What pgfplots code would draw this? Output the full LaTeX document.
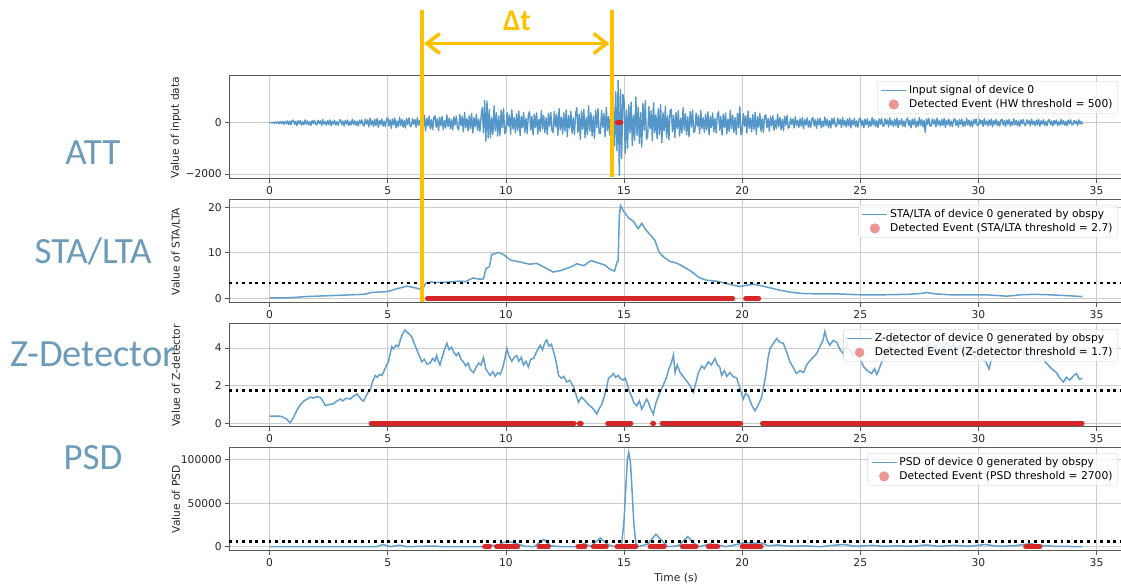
\documentclass[border=0pt]{standalone}
\usepackage{pgfplots}
\pgfplotsset{compat=1.18}
\usepackage{fontspec}
\setmainfont{DejaVu Sans}
\newfontfamily\calibri{Carlito}
\usetikzlibrary{arrows.meta}
\definecolor{tabblue}{RGB}{98,160,203}
\definecolor{sigblue}{RGB}{84,150,199}
\definecolor{evred}{RGB}{214,39,40}
\definecolor{evlegend}{RGB}{236,150,150}
\definecolor{orangeA}{RGB}{255,192,0}
\definecolor{sidelbl}{RGB}{108,155,186}
\pgfplotsset{
  panel/.style={
    width=894pt, height=103pt, scale only axis,
    xmin=-1.72, xmax=36.12, xtick={0,5,...,35},
    /pgf/number format/assume math mode=true,
    grid=major, grid style={gray!40, line width=0.8pt},
    axis line style={black!65, line width=1pt},
    tick style={black!65, line width=0.8pt},
    tick align=outside, major tick length=3.7pt, tick pos=left,
    ticklabel style={font=\fontsize{10.7}{12}\selectfont, text=black!85},
    label style={font=\fontsize{10.7}{12}\selectfont, text=black!85},
    ylabel style={at={(axis description cs:-0.0593,0.5)}, anchor=center},
    legend cell align=left,
    legend style={at={(1,1)}, anchor=north east, xshift=-5.3pt, yshift=-5.3pt,
      draw=black!20, fill=white, fill opacity=0.8, text opacity=1,
      rounded corners=2pt, font=\fontsize{10.7}{12}\selectfont,
      inner xsep=3pt, inner ysep=2pt, row sep=0.5pt},
  },
  sigline/.style={line width=1.5pt, color=tabblue,
    legend image code/.code={\draw[tabblue, line width=1.5pt] (0pt,0pt) -- (25pt,0pt);}},
  events/.style={evred, line width=5pt, line cap=round, unbounded coords=jump,
    legend image code/.code={\fill[evlegend] (12.5pt,0pt) circle (2.4pt);}},
  thresh/.style={black, line width=2.8pt, dash pattern=on 2.8pt off 3.8pt, forget plot},
}
\begin{document}
\begin{tikzpicture}
\useasboundingbox (0pt,0pt) rectangle (1121pt,588pt);

% ---------------- Panel 1: ATT  (samples every 0.05 s)
\begin{axis}[panel, at={(229pt,409pt)}, anchor=south west,
  ymin=-2195, ymax=1820, ytick={-2000,0}, yticklabels={−2000,0},
  ylabel={Value of input data}]
\addplot[sigblue, line width=1.35pt, line join=round,
  legend image code/.code={\draw[tabblue, line width=1.5pt] (0pt,0pt) -- (25pt,0pt);}]
  table[row sep=\\, header=false, x expr=\coordindex*0.05, y index=0] {
0\\10\\-15\\20\\-25\\30\\-20\\35\\-40\\45\\-35\\50\\-60\\55\\-45\\70\\-80\\60\\-75\\90\\
99\\-66\\55\\-110\\77\\-44\\88\\-99\\33\\-77\\110\\-55\\66\\-88\\44\\-105\\83\\-33\\94\\-72\\
-84\\96\\-36\\72\\-108\\120\\-60\\48\\-96\\84\\-72\\108\\-120\\60\\-48\\96\\-90\\42\\-102\\72\\
117\\-78\\65\\-130\\91\\-52\\104\\-117\\39\\-91\\130\\-65\\78\\-104\\52\\-124\\98\\-39\\111\\-85\\
-126\\144\\-54\\108\\-162\\180\\-90\\72\\-144\\126\\-108\\162\\-180\\90\\-72\\144\\-135\\63\\-153\\108\\
198\\-132\\110\\-220\\154\\-88\\176\\-198\\66\\-154\\220\\-110\\132\\-176\\88\\-209\\165\\-66\\187\\-143\\
-140\\160\\-60\\120\\-180\\200\\-100\\80\\-160\\140\\-192\\288\\-320\\160\\-128\\256\\-240\\112\\-272\\192\\
270\\-180\\150\\-300\\210\\-120\\240\\-270\\90\\-210\\300\\-150\\180\\-240\\120\\-285\\225\\-90\\255\\-195\\
-280\\320\\-120\\240\\-360\\400\\-200\\160\\-320\\280\\-240\\360\\-400\\200\\-160\\320\\-300\\140\\-340\\240\\
585\\-390\\860\\-720\\840\\-600\\520\\-585\\195\\-455\\650\\-325\\390\\-520\\260\\-500\\488\\-195\\553\\-423\\
-350\\400\\-150\\300\\-450\\500\\-250\\200\\-400\\350\\-300\\450\\-500\\250\\-200\\400\\-375\\175\\-425\\300\\
432\\-288\\240\\-480\\336\\-192\\384\\-432\\144\\-336\\480\\-240\\288\\-384\\192\\-456\\360\\-144\\408\\-312\\
-385\\440\\-165\\330\\-495\\550\\-275\\220\\-440\\385\\-330\\495\\-550\\275\\-220\\440\\-413\\193\\-468\\330\\
585\\-390\\325\\-650\\455\\-260\\520\\-585\\195\\-455\\650\\-325\\390\\-520\\260\\-618\\488\\-195\\553\\-423\\
-420\\480\\-180\\360\\-540\\600\\-300\\240\\-480\\420\\-500\\700\\-900\\1200\\-1100\\1650\\-2050\\1300\\-1400\\1100\\
900\\-1200\\500\\-1000\\700\\-400\\800\\-900\\300\\-700\\1000\\-500\\600\\-800\\400\\-950\\750\\-300\\850\\-650\\
-546\\624\\-234\\468\\-702\\780\\-390\\312\\-624\\546\\-468\\702\\-780\\390\\-312\\624\\-585\\273\\-663\\468\\
522\\-348\\290\\-580\\406\\-232\\464\\-522\\174\\-406\\580\\-290\\348\\-464\\232\\-551\\435\\-174\\493\\-377\\
-329\\376\\-141\\282\\-423\\470\\-235\\188\\-376\\329\\-282\\423\\-470\\235\\-188\\376\\-353\\165\\-400\\282\\
432\\-288\\240\\-480\\336\\-192\\384\\-432\\144\\-336\\480\\-240\\288\\-384\\192\\-456\\360\\-200\\620\\-480\\
-315\\360\\-135\\270\\-405\\450\\-225\\180\\-360\\315\\-270\\405\\-450\\225\\-180\\360\\-338\\158\\-383\\270\\
297\\-198\\165\\-330\\231\\-132\\264\\-297\\99\\-231\\330\\-165\\198\\-264\\132\\-314\\248\\-99\\281\\-215\\
-161\\184\\-69\\138\\-207\\230\\-115\\92\\-184\\161\\-138\\207\\-230\\115\\-92\\184\\-173\\81\\-196\\138\\
198\\-132\\110\\-220\\154\\-88\\176\\-198\\66\\-154\\220\\-110\\132\\-176\\88\\-209\\165\\-66\\187\\-143\\
-147\\168\\-63\\126\\-189\\210\\-105\\84\\-168\\147\\-126\\189\\-210\\105\\-84\\168\\-158\\74\\-179\\126\\
180\\-120\\100\\-200\\140\\-80\\160\\-180\\60\\-140\\200\\-100\\120\\-160\\80\\-190\\150\\-60\\170\\-130\\
-133\\152\\-57\\114\\-171\\190\\-95\\76\\-152\\133\\-114\\171\\-190\\95\\-76\\152\\-143\\67\\-162\\114\\
180\\-120\\100\\-200\\140\\-80\\160\\-180\\60\\-140\\200\\-100\\120\\-160\\80\\-380\\150\\-60\\170\\-130\\
-126\\144\\-54\\108\\-162\\180\\-90\\72\\-144\\126\\-108\\162\\-180\\90\\-72\\144\\-135\\63\\-153\\108\\
153\\-102\\85\\-170\\119\\-68\\136\\-153\\51\\-119\\170\\-85\\102\\-136\\68\\-162\\128\\-51\\145\\-111\\
-112\\128\\-48\\96\\-144\\160\\-80\\64\\-128\\112\\-96\\144\\-160\\80\\-64\\128\\-120\\56\\-136\\96\\
135\\-90\\75\\-150\\105\\-60\\120\\-135\\45\\-105\\150\\-75\\90\\-120\\60\\-143\\113\\-45\\128\\-98\\
-98\\112\\-42\\84\\-126\\140\\-70\\56\\-112\\98\\-84\\126\\-140\\70\\-56\\112\\-105\\49\\-119\\84\\
117\\-78\\65\\-130\\91\\-52\\104\\-117\\39\\-91\\130\\-65\\78\\-104\\52\\-124\\98\\-39\\111\\-85\\
-77\\88\\-33\\66\\-99\\110\\-55\\44\\-60\\
};
\addlegendentry{Input signal of device 0}
\addplot[events] coordinates {(14.72,0) (14.86,0)};
\addlegendentry{Detected Event (HW threshold = 500)}
\end{axis}

% ---------------- Panel 2: STA/LTA
\begin{axis}[panel, at={(229pt,285pt)}, anchor=south west,
  ymin=-1.0, ymax=21.6, ytick={0,10,20}, yticklabels={0,10,20},
  ylabel={Value of STA/LTA}]
\addplot[sigline] coordinates {
(0,0.1)(0.5,0.1)(1,0.2)(1.5,0.4)(2,0.5)(2.5,0.6)(3,0.7)(3.5,0.8)(4,0.9)(4.3,1.3)
(4.6,1.4)(5,1.5)(5.3,2.0)(5.6,2.4)(5.8,2.7)(6.1,2.4)(6.4,2.0)(6.5,2.3)(6.6,3.3)(6.8,3.6)
(7.2,3.5)(7.6,3.6)(8.0,3.8)(8.3,3.7)(8.6,4.5)(8.9,4.2)(9.05,4.3)(9.15,6.5)(9.3,7.0)(9.4,9.6)
(9.7,10.1)(9.9,9.6)(10.2,8.4)(10.6,8.0)(11.0,7.5)(11.3,7.7)(11.6,6.9)(12.0,5.8)(12.3,6.1)(12.7,6.8)
(13.0,7.6)(13.3,7.2)(13.6,8.3)(13.9,7.8)(14.2,7.3)(14.4,6.4)(14.6,6.0)(14.7,7.9)(14.75,8.2)(14.8,18.0)
(14.85,20.4)(15.0,19.0)(15.2,17.6)(15.4,16.9)(15.6,15.3)(15.75,16.5)(15.9,15.2)(16.1,14.0)(16.3,12.8)(16.5,10.0)
(16.7,9.0)(16.95,8.1)(17.2,7.8)(17.4,7.3)(17.8,6.1)(18.2,4.5)(18.5,4.0)(18.9,3.8)(19.3,3.3)(19.9,2.6)
(20.2,2.9)(20.5,3.1)(20.8,2.8)(21.2,2.3)(21.6,1.8)(22.0,1.4)(22.5,1.1)(23.2,1.0)(24,1.0)(25,0.8)
(26,0.8)(27,0.9)(27.6,1.1)(27.8,1.3)(28.2,1.0)(28.8,0.8)(29.5,0.8)(30.3,0.8)(31.2,0.5)(31.8,0.8)
(32.4,0.9)(33,0.8)(33.8,0.6)(34.4,0.4)};
\addlegendentry{STA/LTA of device 0 generated by obspy}
\addplot[events] coordinates {(6.68,0) (19.6,0) (20,nan) (20.15,0) (20.7,0)};
\addlegendentry{Detected Event (STA/LTA threshold = 2.7)}
\addplot[thresh] coordinates {(-1.72,3.37) (36.12,3.37)};
\end{axis}

% ---------------- Panel 3: Z-detector
\begin{axis}[panel, at={(229pt,161pt)}, anchor=south west,
  ymin=-0.18, ymax=5.27, ytick={0,2,4}, yticklabels={0,2,4},
  ylabel={Value of Z-detector}]
\addplot[sigline] coordinates {
(0,0.40)(0.3,0.40)(0.5,0.38)(0.7,0.25)(0.87,0.05)(1.0,0.3)(1.15,0.7)(1.3,1.0)(1.45,1.2)(1.6,1.3)
(1.72,1.4)(1.85,1.35)(2.0,1.42)(2.15,1.38)(2.25,1.2)(2.36,0.95)(2.5,1.0)(2.7,1.05)(2.85,1.2)(3.0,1.3)
(3.1,1.2)(3.25,1.35)(3.4,1.3)(3.55,1.45)(3.7,1.57)(3.8,1.4)(3.9,1.25)(3.98,1.2)(4.1,1.5)(4.2,1.75)
(4.26,1.77)(4.35,2.2)(4.47,2.55)(4.55,2.45)(4.65,2.6)(4.75,2.55)(4.85,2.8)(4.95,3.1)(5.03,3.27)(5.1,3.7)
(5.17,4.07)(5.25,3.95)(5.35,4.15)(5.45,4.07)(5.55,4.5)(5.65,4.8)(5.73,4.96)(5.8,4.85)(5.9,4.75)(6.01,4.6)
(6.1,4.3)(6.2,4.0)(6.3,3.7)(6.44,3.27)(6.55,3.4)(6.65,3.15)(6.79,3.2)(6.9,3.45)(7.0,3.3)(7.07,3.6)
(7.14,3.3)(7.21,3.1)(7.3,3.5)(7.4,3.9)(7.5,4.25)(7.6,3.9)(7.7,4.05)(7.78,3.8)(7.9,3.6)(8.0,3.75)
(8.1,3.4)(8.2,3.27)(8.3,3.05)(8.4,3.2)(8.5,2.85)(8.63,2.7)(8.75,3.0)(8.85,3.2)(8.95,3.1)(9.05,3.5)
(9.15,2.9)(9.25,2.7)(9.33,2.55)(9.45,2.75)(9.55,2.5)(9.65,2.7)(9.76,2.6)(9.85,2.9)(9.95,3.4)(10.04,3.98)
(10.12,3.6)(10.25,3.3)(10.35,3.5)(10.46,3.6)(10.55,3.3)(10.65,3.5)(10.75,3.1)(10.85,3.3)(10.95,3.0)(11.05,3.4)
(11.17,3.45)(11.3,3.8)(11.45,4.15)(11.55,3.9)(11.65,4.3)(11.73,4.43)(11.82,4.1)(11.92,4.2)(12.02,3.8)(12.12,3.3)
(12.23,2.55)(12.35,2.4)(12.45,2.5)(12.58,2.2)(12.7,2.3)(12.86,1.95)(12.95,1.6)(13.07,1.13)(13.2,1.4)(13.36,1.2)
(13.5,1.0)(13.64,0.85)(13.75,0.7)(13.85,0.5)(13.95,0.8)(14.05,1.0)(14.13,1.3)(14.25,1.8)(14.34,2.4)(14.45,2.5)
(14.55,2.65)(14.65,2.45)(14.75,2.55)(14.83,2.4)(14.95,2.3)(15.05,2.4)(15.11,2.2)(15.2,1.8)(15.33,1.4)(15.42,1.1)
(15.54,0.95)(15.65,1.2)(15.75,0.77)(15.85,1.0)(15.95,1.3)(16.03,1.13)(16.12,0.8)(16.24,0.5)(16.35,1.1)(16.52,1.65)
(16.65,2.0)(16.8,2.46)(16.9,2.9)(17.0,3.2)(17.09,3.63)(17.16,2.7)(17.25,3.1)(17.37,2.7)(17.5,2.5)(17.65,2.25)
(17.8,2.0)(17.93,1.65)(18.05,2.2)(18.15,2.7)(18.29,3.05)(18.4,2.9)(18.57,3.27)(18.7,3.1)(18.85,3.45)(18.95,3.1)
(19.05,3.0)(19.13,2.55)(19.25,2.8)(19.35,2.5)(19.48,2.7)(19.6,2.5)(19.77,2.4)(19.9,1.9)(20.05,1.3)(20.15,1.6)
(20.26,1.47)(20.4,1.0)(20.54,0.68)(20.65,0.9)(20.82,1.38)(20.95,2.2)(21.04,2.9)(21.1,3.5)(21.18,3.98)(21.3,4.2)
(21.46,4.5)(21.6,4.3)(21.74,4.25)(21.88,3.8)(22.02,3.27)(22.15,3.0)(22.3,2.65)(22.45,2.8)(22.6,2.7)(22.73,3.1)
(22.85,3.3)(23.0,3.5)(23.15,3.7)(23.3,4.1)(23.42,4.4)(23.5,4.87)(23.6,4.4)(23.71,4.15)(23.85,4.4)(24.0,4.3)
(24.15,3.9)(24.28,3.7)(24.4,4.1)(24.55,3.9)(24.7,3.6)(24.85,3.8)(25.0,3.4)(25.15,3.0)(25.3,2.8)(25.48,2.65)
(25.6,2.9)(25.7,2.6)(25.8,2.9)(25.95,3.4)(26.1,3.8)(26.25,4.1)(26.4,4.4)(26.55,4.2)(26.7,4.5)(26.85,4.1)
(27.0,3.9)(27.15,4.0)(27.3,3.7)(27.45,3.8)(27.6,3.5)(27.75,3.9)(27.9,4.2)(28.05,3.9)(28.2,4.1)(28.35,3.7)
(28.5,3.9)(28.65,4.3)(28.8,4.0)(28.95,4.2)(29.1,3.9)(29.25,4.1)(29.4,3.8)(29.55,3.6)(29.7,3.8)(29.85,3.5)
(30.0,3.7)(30.15,3.4)(30.3,3.3)(30.45,2.9)(30.55,3.4)(30.7,3.7)(30.85,3.9)(31.0,4.1)(31.15,3.8)(31.3,3.6)
(31.45,3.9)(31.6,3.7)(31.75,4.0)(31.9,3.8)(32.05,3.6)(32.2,3.9)(32.35,3.5)(32.5,3.4)(32.65,3.6)(32.8,3.3)
(32.95,3.1)(33.1,2.9)(33.3,2.7)(33.45,2.4)(33.6,2.2)(33.72,2.45)(33.87,2.3)(34.0,2.5)(34.15,2.65)(34.28,2.35)
(34.4,2.4)};
\addlegendentry{Z-detector of device 0 generated by obspy}
\addplot[events, line width=4.5pt] coordinates {(4.29,0) (12.9,0) (13,nan) (13.1,0) (13.2,0) (13.5,nan)
  (14.3,0) (15.3,0) (15.8,nan) (16.2,0) (16.26,0) (16.4,nan) (16.6,0) (19.95,0) (20.4,nan) (20.85,0) (34.4,0)};
\addlegendentry{Detected Event (Z-detector threshold = 1.7)}
\addplot[thresh] coordinates {(-1.72,1.77) (36.12,1.77)};
\end{axis}

% ---------------- Panel 4: PSD
\begin{axis}[panel, at={(229pt,37pt)}, anchor=south west,
  ymin=-4960, ymax=113600, ytick={0,50000,100000}, yticklabels={0,50000,100000},
  scaled y ticks=false,
  ylabel={Value of PSD}, xlabel={Time (s)}]
\addplot[sigline] coordinates {
(0,0)(4.5,0)(4.8,2500)(5.1,0)(5.5,1700)(5.8,0)(7.0,800)(7.3,0)(9.0,0)(9.3,2500)
(9.6,500)(9.9,5000)(10.2,5500)(10.5,3000)(10.8,500)(11.2,0)(11.6,8500)(11.9,1000)(12.3,0)(13.0,0)
(13.3,3500)(13.6,500)(14.0,10000)(14.3,2500)(14.6,0)(14.8,500)(14.9,3000)(15.0,30000)(15.08,70000)(15.14,100000)
(15.2,108500)(15.27,98000)(15.34,65000)(15.42,25000)(15.5,4000)(15.6,0)(16.0,3000)(16.35,14300)(16.6,7000)(16.85,0)(17.3,1000)
(17.7,11500)(18.0,3000)(18.2,0)(18.6,3000)(18.9,2500)(19.3,0)(19.6,1500)(20.1,4500)(20.5,4000)(20.8,4500)
(21.1,1000)(21.5,2000)(22.0,500)(22.6,1000)(23.3,0)(23.8,1500)(24.3,2500)(24.8,500)(25.5,1500)(26.0,500)
(26.5,1000)(27.2,500)(27.8,2000)(28.3,500)(29.0,1500)(29.6,500)(30.3,2500)(30.8,500)(31.5,1000)(32.2,3500)
(32.6,1500)(33.2,500)(34.4,0)};
\addlegendentry{PSD of device 0 generated by obspy}
\addplot[events] coordinates {(9.1,0) (9.3,0) (9.45,nan) (9.6,0) (10.5,0) (11,nan) (11.4,0) (11.8,0) (12.5,nan)
  (13.05,0) (13.35,0) (13.5,nan) (13.7,0) (14.25,0) (14.5,nan) (14.7,0) (15.5,0) (15.8,nan) (16.1,0) (16.7,0) (17,nan)
  (17.47,0) (18.05,0) (18.3,nan) (18.57,0) (18.96,0) (19.5,nan) (20.0,0) (20.8,0) (25,nan) (32.0,0) (32.6,0)};
\addlegendentry{Detected Event (PSD threshold = 2700)}
\addplot[thresh] coordinates {(-1.72,5770) (36.12,5770)};
\end{axis}

% ---------------- annotations
\node[font=\calibri\fontsize{37}{40}\selectfont, text=sidelbl, anchor=base] at (93pt,423.4pt) {ATT};
\node[font=\calibri\fontsize{37}{40}\selectfont, text=sidelbl, anchor=base] at (93pt,324.4pt) {STA/LTA};
\node[font=\calibri\fontsize{38.5}{40}\selectfont, text=sidelbl, anchor=base] at (93pt,221.1pt) {Z-Detector};
\node[font=\calibri\fontsize{37}{40}\selectfont, text=sidelbl, anchor=base] at (93pt,118.1pt) {PSD};

\draw[orangeA, line width=4pt] (421.8pt,578pt) -- (421.8pt,286pt);
\draw[orangeA, line width=4pt] (611.6pt,578pt) -- (611.6pt,411pt);
\draw[orangeA, line width=3.5pt, {Straight Barb[length=13pt,width=20pt]}-{Straight Barb[length=13pt,width=20pt]}]
  (424pt,544.5pt) -- (609.5pt,544.5pt);
\node[font=\calibri\bfseries\fontsize{30}{32}\selectfont, text=orangeA, anchor=base] at (517pt,557.8pt) {Δt};
\end{tikzpicture}
\end{document}
